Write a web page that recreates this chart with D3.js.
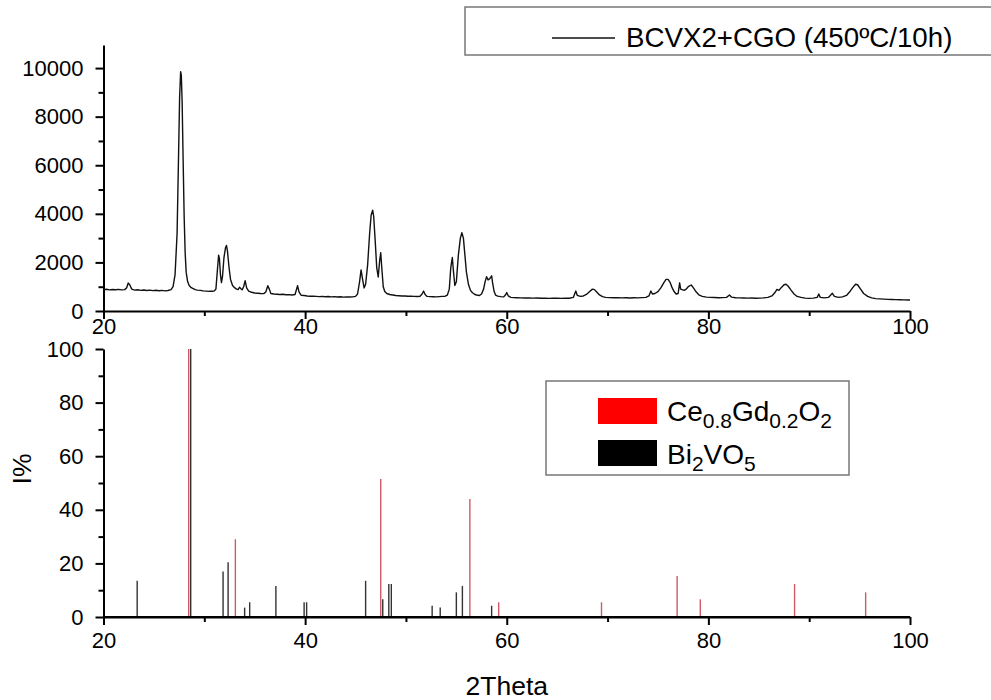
<!DOCTYPE html>
<html>
<head>
<meta charset="utf-8">
<script src="https://cdn.jsdelivr.net/npm/d3@7"></script>
<style>
  html, body { margin: 0; padding: 0; background: #fff; }
  svg { display: block; font-family: "Liberation Sans", Arial, sans-serif; }
</style>
</head>
<body>
<svg id="chart" width="991" height="700"></svg>
<script>
// Measured XRD pattern of BCVX2+CGO after 450 ºC / 10 h: [2θ (deg), counts]
const pattern = [
  [20.0,880],[20.3,895],[20.6,870],[20.9,885],[21.2,875],[21.5,890],[21.8,870],[22.1,880],
  [22.3,960],[22.45,1150],[22.6,1080],[22.8,900],[23.1,860],[23.4,875],[23.7,850],[24.0,865],
  [24.3,845],[24.6,860],[24.9,840],[25.2,855],[25.5,835],[25.8,850],[26.1,830],[26.4,845],
  [26.7,880],[26.9,1000],[27.1,1500],[27.3,3200],[27.45,6500],[27.55,8800],[27.65,9850],
  [27.72,9700],[27.8,8600],[27.9,6200],[28.0,3900],[28.1,2400],[28.2,1600],[28.35,1200],
  [28.5,1050],[28.7,960],[28.9,920],[29.1,880],[29.3,860],[29.6,850],[29.9,830],[30.2,820],
  [30.5,810],[30.8,815],[31.0,830],[31.15,900],[31.3,1700],[31.42,2300],[31.5,2150],[31.6,1500],
  [31.7,1170],[31.8,1400],[31.95,2200],[32.1,2600],[32.2,2700],[32.3,2450],[32.45,1800],
  [32.6,1300],[32.8,1050],[33.0,960],[33.2,900],[33.35,880],[33.5,980],[33.6,930],[33.75,870],
  [33.9,1000],[34.05,1250],[34.2,950],[34.4,820],[34.7,770],[35.0,740],[35.3,730],[35.6,720],
  [35.9,715],[36.1,780],[36.3,1040],[36.45,900],[36.6,720],[36.9,700],[37.2,690],[37.5,680],
  [37.8,690],[38.1,670],[38.4,675],[38.7,660],[39.0,680],[39.25,1040],[39.4,780],[39.6,650],
  [39.9,640],[40.2,620],[40.5,610],[40.8,605],[41.1,600],[41.4,590],[41.7,600],[42.0,585],
  [42.3,595],[42.6,580],[42.9,590],[43.2,575],[43.5,585],[43.8,570],[44.1,580],[44.4,575],
  [44.7,580],[45.0,600],[45.2,700],[45.4,1200],[45.55,1690],[45.7,1300],[45.85,950],[46.0,1100],
  [46.2,1900],[46.4,3200],[46.55,3950],[46.7,4150],[46.8,3900],[46.95,2900],[47.1,1800],
  [47.25,1400],[47.4,2100],[47.5,2400],[47.6,1800],[47.75,1000],[47.9,800],[48.1,720],
  [48.4,680],[48.7,660],[49.0,640],[49.3,630],[49.6,620],[49.9,615],[50.2,605],[50.5,610],
  [50.8,600],[51.1,595],[51.4,610],[51.6,700],[51.75,820],[51.9,680],[52.1,600],[52.4,590],
  [52.7,585],[53.0,580],[53.3,590],[53.6,600],[53.9,610],[54.1,650],[54.3,900],[54.45,1800],
  [54.6,2200],[54.7,1700],[54.85,1050],[55.0,1200],[55.2,2300],[55.4,3000],[55.55,3220],
  [55.7,3000],[55.85,2300],[56.0,1600],[56.2,1100],[56.4,850],[56.6,750],[56.8,690],[57.0,660],
  [57.3,640],[57.5,700],[57.7,900],[57.85,1200],[58.0,1410],[58.15,1280],[58.3,1320],[58.5,1450],
  [58.6,1150],[58.75,800],[58.9,650],[59.1,610],[59.4,590],[59.7,580],[59.9,680],[60.0,760],
  [60.15,620],[60.4,560],[60.7,550],[61.0,545],[61.4,540],[61.8,535],[62.2,540],[62.6,530],
  [63.0,535],[63.4,525],[63.8,530],[64.2,520],[64.6,530],[65.0,525],[65.4,520],[65.8,530],
  [66.2,525],[66.6,560],[66.85,820],[67.0,640],[67.3,600],[67.6,620],[67.9,680],[68.2,790],
  [68.5,900],[68.7,880],[68.9,790],[69.2,660],[69.5,590],[69.8,560],[70.2,550],[70.6,545],
  [71.0,550],[71.4,540],[71.8,545],[72.2,535],[72.6,545],[73.0,540],[73.4,550],[73.8,560],
  [74.1,620],[74.3,820],[74.45,700],[74.7,720],[75.0,800],[75.3,960],[75.6,1180],[75.8,1300],
  [76.0,1300],[76.2,1180],[76.4,960],[76.6,800],[76.8,700],[77.0,720],[77.15,1160],[77.25,900],
  [77.4,880],[77.6,850],[77.8,900],[78.0,1000],[78.3,1070],[78.5,960],[78.8,780],[79.1,650],
  [79.4,600],[79.8,570],[80.2,560],[80.6,555],[81.0,545],[81.4,550],[81.8,560],[82.1,660],
  [82.3,570],[82.7,545],[83.1,540],[83.5,535],[83.9,530],[84.3,535],[84.7,525],[85.1,530],
  [85.5,540],[85.9,560],[86.3,620],[86.6,760],[86.8,890],[87.0,850],[87.2,950],[87.5,1080],
  [87.7,1100],[87.9,1030],[88.2,860],[88.5,700],[88.8,600],[89.2,560],[89.6,530],[90.0,520],
  [90.4,530],[90.8,560],[90.95,700],[91.1,560],[91.5,540],[91.9,560],[92.3,730],[92.5,600],
  [92.9,560],[93.3,580],[93.7,640],[94.0,780],[94.3,950],[94.6,1100],[94.8,1080],[95.1,900],
  [95.4,720],[95.8,600],[96.2,540],[96.6,510],[97.0,500],[97.4,490],[97.8,480],[98.2,475],
  [98.6,470],[99.0,465],[99.4,460],[99.8,455],[100.0,450]
];

// Reference reflections (2θ, relative intensity I%)
const cgoTheta = [28.45, 33.08, 47.5, 56.34, 59.2, 69.4, 76.9, 79.2, 88.55, 95.6];
const cgoIntensity = [100, 29, 51.5, 44, 5.5, 5.5, 15.3, 6.6, 12.3, 9.2];

const bvoTheta = [23.34, 28.65, 31.86, 32.36, 34.0, 34.5, 37.1, 39.9, 40.15, 46.0, 47.7,
                  48.3, 48.55, 52.6, 53.4, 55.0, 55.6, 58.5];
const bvoIntensity = [13.5, 100, 17, 20.4, 3.5, 5.5, 11.6, 5.5, 5.5, 13.5, 6.6,
                      12.3, 12.3, 4.2, 3.5, 9.2, 11.6, 4.2];

const xTicks = [20, 30, 40, 50, 60, 70, 80, 90, 100];
const topYTicks = [0, 1000, 2000, 3000, 4000, 5000, 6000, 7000, 8000, 9000, 10000];
const botYTicks = [0, 10, 20, 30, 40, 50, 60, 70, 80, 90, 100];

const patternLabel = "BCVX2+CGO (450ºC/10h)";
const xTitle = "2Theta";
const yTitle = "I%";

const svg = d3.select("#chart");
const FONT_TICK = 22;

const x = d3.scaleLinear().domain([20, 100]).range([103.5, 910]);
const yTop = d3.scaleLinear().domain([0, 10950]).range([311, 45]);
const yBot = d3.scaleLinear().domain([0, 100]).range([617, 349]);

// Shared axis styling: major ticks labelled, minor ticks shorter and unlabelled
function styleAxis(g, isMajor, major, minor) {
  g.select(".domain").attr("stroke", "#000").attr("stroke-width", 2);
  g.selectAll(".tick line")
    .attr("stroke", "#000").attr("stroke-width", 2)
    .each(function(d) {
      const sel = d3.select(this);
      const len = isMajor(d) ? major : minor;
      if (sel.attr("x2") !== null && +sel.attr("x2") !== 0) sel.attr("x2", -len);
      else sel.attr("y2", len);
    });
  g.selectAll(".tick text")
    .attr("font-size", FONT_TICK)
    .attr("fill", "#000")
    .attr("font-family", "'Liberation Sans', Arial, sans-serif");
}

const xMajor = d => d % 20 === 0;

// ---------- Top panel: diffractogram ----------
const gxTop = svg.append("g").attr("transform", `translate(0,${yTop(0)})`)
  .call(d3.axisBottom(x).tickValues(xTicks).tickSize(8).tickPadding(3)
        .tickSizeOuter(0).tickFormat(d => xMajor(d) ? d : ""));
styleAxis(gxTop, xMajor, 8, 5);
gxTop.selectAll(".tick text").attr("dy", "0.55em");

const topMajor = d => d % 2000 === 0;
const gyTop = svg.append("g").attr("transform", `translate(${x(20)},0)`)
  .call(d3.axisLeft(yTop).tickValues(topYTicks).tickSize(8).tickPadding(12)
        .tickSizeOuter(0).tickFormat(d => topMajor(d) ? d : ""));
styleAxis(gyTop, topMajor, 8, 5);

const line = d3.line().x(d => x(d[0])).y(d => yTop(d[1]));
svg.append("path")
  .datum(pattern)
  .attr("d", line)
  .attr("fill", "none")
  .attr("stroke", "#111")
  .attr("stroke-width", 1.4)
  .attr("stroke-linejoin", "round");

// Top legend
const legTop = svg.append("g");
legTop.append("rect")
  .attr("x", 465).attr("y", 7).attr("width", 540).attr("height", 48)
  .attr("fill", "#fff").attr("stroke", "#777").attr("stroke-width", 1.5);
legTop.append("line")
  .attr("x1", 552).attr("x2", 615).attr("y1", 38).attr("y2", 38)
  .attr("stroke", "#111").attr("stroke-width", 1.3);
legTop.append("text")
  .attr("x", 626).attr("y", 47)
  .attr("font-size", 27.7)
  .attr("fill", "#000")
  .text(patternLabel);

// ---------- Bottom panel: reference reflections ----------
const gxBot = svg.append("g").attr("transform", `translate(0,${yBot(0)})`)
  .call(d3.axisBottom(x).tickValues(xTicks).tickSize(8).tickPadding(4)
        .tickSizeOuter(0).tickFormat(d => xMajor(d) ? d : ""));
styleAxis(gxBot, xMajor, 8, 5);
gxBot.selectAll(".tick text").attr("dy", "0.85em");

const botMajor = d => d % 20 === 0;
const gyBot = svg.append("g").attr("transform", `translate(${x(20)},0)`)
  .call(d3.axisLeft(yBot).tickValues(botYTicks).tickSize(8).tickPadding(12)
        .tickSizeOuter(0).tickFormat(d => botMajor(d) ? d : ""));
styleAxis(gyBot, botMajor, 8, 5);

const bvo = bvoTheta.map((t, i) => ({ t, v: bvoIntensity[i] }));
const cgo = cgoTheta.map((t, i) => ({ t, v: cgoIntensity[i] }));

svg.append("g").selectAll("line")
  .data(bvo).join("line")
  .attr("x1", d => x(d.t)).attr("x2", d => x(d.t))
  .attr("y1", yBot(0)).attr("y2", d => yBot(d.v))
  .attr("stroke", "#333").attr("stroke-width", 1.4);

svg.append("g").selectAll("line")
  .data(cgo).join("line")
  .attr("x1", d => x(d.t)).attr("x2", d => x(d.t))
  .attr("y1", yBot(0)).attr("y2", d => yBot(d.v))
  .attr("stroke", "#cf5a66").attr("stroke-width", 1.4);

// Redraw the bottom axis baseline over the bars
svg.append("line")
  .attr("x1", x(20)).attr("x2", x(100)).attr("y1", yBot(0)).attr("y2", yBot(0))
  .attr("stroke", "#000").attr("stroke-width", 2);

// Bottom legend
const legBot = svg.append("g");
legBot.append("rect")
  .attr("x", 546).attr("y", 381).attr("width", 303).attr("height", 94)
  .attr("fill", "#fff").attr("stroke", "#777").attr("stroke-width", 1.5);
legBot.append("rect")
  .attr("x", 598).attr("y", 398).attr("width", 59).attr("height", 26)
  .attr("fill", "#ff0000");
legBot.append("rect")
  .attr("x", 598).attr("y", 440).attr("width", 59).attr("height", 26)
  .attr("fill", "#000");

function chemLabel(g, xPos, yPos, parts) {
  const t = g.append("text").attr("x", xPos).attr("y", yPos)
    .attr("font-size", 28).attr("fill", "#000");
  parts.forEach(p => {
    const ts = t.append("tspan").text(p.s);
    if (p.sub) ts.attr("font-size", 21).attr("dy", 7);
    else ts.attr("dy", p.back ? -7 : 0);
  });
}
chemLabel(legBot, 667, 421, [
  { s: "Ce" }, { s: "0.8", sub: true }, { s: "Gd", back: true }, { s: "0.2", sub: true },
  { s: "O", back: true }, { s: "2", sub: true }
]);
chemLabel(legBot, 667, 464, [
  { s: "Bi" }, { s: "2", sub: true }, { s: "VO", back: true }, { s: "5", sub: true }
]);

// Axis titles
svg.append("text")
  .attr("x", x(60)).attr("y", 695)
  .attr("text-anchor", "middle")
  .attr("font-size", 26.5)
  .text(xTitle);
svg.append("text")
  .attr("transform", "translate(31,469) rotate(-90)")
  .attr("text-anchor", "middle")
  .attr("font-size", 26.5)
  .text(yTitle);
</script>
</body>
</html>
